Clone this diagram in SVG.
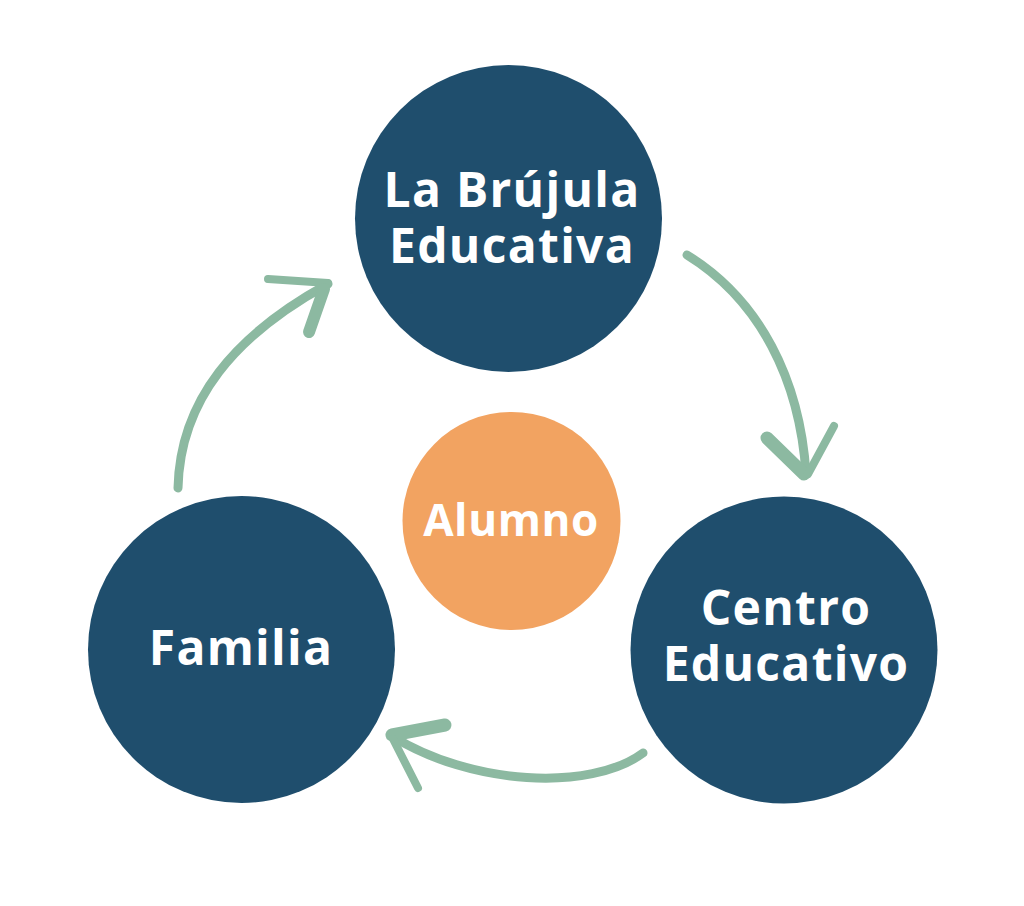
<svg xmlns="http://www.w3.org/2000/svg" width="1024" height="906" viewBox="0 0 1024 906">
  <style>
    .node { fill: #1f4e6d; }
    .center { fill: #f2a361; }
    .label { fill: #ffffff; font-family: "Open Sans", "Noto Sans", "Liberation Sans", sans-serif; font-weight: 700; text-anchor: middle; }
    .big { font-size: 48px; letter-spacing: 1.3px; }
    .small { font-size: 44px; letter-spacing: 0.6px; }
    .shaft { fill: none; stroke: #8cb9a1; stroke-width: 9; stroke-linecap: round; }
    .barb { fill: none; stroke: #8cb9a1; stroke-linecap: round; stroke-linejoin: round; }
  </style>
  <rect width="1024" height="906" fill="#ffffff"/>
  <g id="connectors">
    <g id="arrow-familia-brujula">
      <path class="shaft" d="M178,488 C180,400 235,335 328,284"/>
      <path class="barb" stroke-width="8" d="M268,279 L328,283"/>
      <path class="barb" stroke-width="12" d="M309,332 L324,289"/>
    </g>
    <g id="arrow-brujula-centro">
      <path class="shaft" d="M687,255 C760,300 800,380 806,474"/>
      <path class="barb" stroke-width="13" d="M767,438 L804,474"/>
      <path class="barb" stroke-width="8" d="M834,426 L808,474"/>
    </g>
    <g id="arrow-centro-familia">
      <path class="shaft" d="M643,753 C590,792 470,785 392,736"/>
      <path class="barb" stroke-width="13" d="M445,725 L392,735"/>
      <path class="barb" stroke-width="8" d="M418,788 L393,739"/>
    </g>
  </g>
  <g id="node-brujula">
    <circle class="node" cx="508.5" cy="218.5" r="153.5"/>
    <text class="label big" x="512" y="207">La Brújula</text>
    <text class="label big" x="512" y="263">Educativa</text>
  </g>
  <g id="node-centro">
    <circle class="node" cx="784" cy="650" r="153.5"/>
    <text class="label big" x="786" y="625">Centro</text>
    <text class="label big" x="786" y="681">Educativo</text>
  </g>
  <g id="node-familia">
    <circle class="node" cx="241.5" cy="649.5" r="153.5"/>
    <text class="label big" x="241" y="665">Familia</text>
  </g>
  <g id="node-alumno">
    <circle class="center" cx="511.5" cy="521" r="109"/>
    <text class="label small" x="511" y="536">Alumno</text>
  </g>
</svg>
